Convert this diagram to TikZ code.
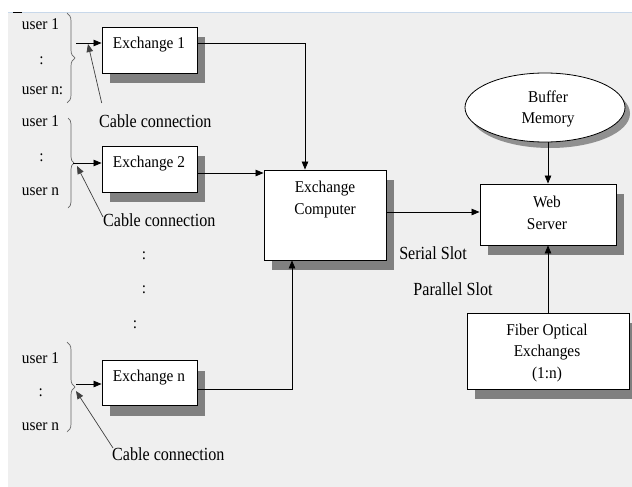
\documentclass[tikz,border=0pt]{standalone}
\usepackage{fontspec}
\setmainfont{Liberation Serif}
\newfontfamily\boxfont[FakeStretch=0.93]{Liberation Serif}
\newfontfamily\lblfont[FakeStretch=0.87]{Liberation Serif}
\usetikzlibrary{arrows.meta,shadows,shapes.geometric,decorations.pathreplacing}
\definecolor{bg}{HTML}{EFEFEF}
\definecolor{shd}{HTML}{808080}
\definecolor{topline}{HTML}{C8D8EA}
\begin{document}
\begin{tikzpicture}[x=1pt,y=-1pt,
  box/.style={draw=black, line width=0.9pt, fill=white, rectangle, inner sep=0pt,
    drop shadow={shadow xshift=8pt, shadow yshift=-10pt, fill=shd, opacity=1}},
  txt/.style={inner sep=0pt, font={\boxfont\fontsize{16.5}{21.5}\selectfont}, align=center},
  lbl/.style={inner sep=0pt, font={\lblfont\fontsize{18.5}{22}\selectfont}},
  arr/.style={line width=0.8pt, -{Triangle[length=8pt,width=6.5pt]}},
  cab/.style={line width=0.7pt, draw=black!75, -{Triangle[length=8pt,width=6.5pt]}},
  brc/.style={draw=black!60, line width=0.7pt, decorate, decoration={brace, amplitude=#1}},
]
\useasboundingbox (0,0) rectangle (632,487);
\fill[bg] (8,12) rectangle (632,487);
\draw[topline, line width=0.8pt] (8,12) -- (632,12);
\draw[line width=1.2pt] (13,12.7) -- (22,12.7);

% boxes
\node[box, minimum width=95pt, minimum height=46pt] (ex1) at (149.5,50) {};
\node[box, minimum width=95pt, minimum height=46pt] (ex2) at (149.5,169) {};
\node[box, minimum width=95pt, minimum height=45pt] (exn) at (149.5,383.2) {};
\node[box, minimum width=122pt, minimum height=90pt] (ec) at (325,215) {};
\node[box, minimum width=136pt, minimum height=61pt] (ws) at (548,214.5) {};
\node[box, minimum width=162pt, minimum height=76pt] (fo) at (548,351) {};
\node[draw=black, line width=0.8pt, ellipse, fill=white, inner sep=0pt,
  minimum width=160pt, minimum height=69pt,
  drop shadow={shadow xshift=5pt, shadow yshift=-6pt, fill=shd, opacity=0.85}] (bm) at (545,107.5) {};

% box texts
\node[txt, anchor=base] (t1) at (149,49) {Exchange 1};
\node[txt, anchor=base] (t2) at (149,167.3) {Exchange 2};
\node[txt, anchor=base] (tn) at (149,381.7) {Exchange n};
\node[txt] (tec) at (325,199.5) {Exchange\\Computer};
\node[txt] (tws) at (547,213) {Web\\Server};
\node[txt] (tfo) at (547,353) {Fiber Optical\\Exchanges\\(1:n)};
\node[txt] (tbm) at (548,109) {Buffer\\Memory};
\node[lbl, anchor=base] (ser) at (433,259.3) {Serial Slot};
\node[lbl, anchor=base] (par) at (453,295) {Parallel Slot};

% users group 1
\node[txt, anchor=base west] (u11) at (21.7,29.5) {user 1};
\node[txt, anchor=base] (u1c) at (41.5,65) {:};
\node[txt, anchor=base west] (u1n) at (21.7,94.3) {user n:};
\draw[brc=8pt] (67,13) -- (67,103);
% users group 2
\node[txt, anchor=base west] (u21) at (21.7,126.7) {user 1};
\node[txt, anchor=base] (u2c) at (41.5,161.7) {:};
\node[txt, anchor=base west] (u2n) at (21.7,195) {user n};
\draw[brc=6pt] (68,118) -- (68,208);
% dots
\node[txt, anchor=base] (d1) at (144,259) {:};
\node[txt, anchor=base] (d2) at (144,293) {:};
\node[txt, anchor=base] (d3) at (135,328) {:};
% users group n
\node[txt, anchor=base west] (un1) at (21.7,363.3) {user 1};
\node[txt, anchor=base] (unc) at (40.7,396.7) {:};
\node[txt, anchor=base west] (unn) at (21.7,430) {user n};
\draw[brc=8pt] (67,342) -- (67,432);

% cable labels
\node[lbl, anchor=base west] (cl1) at (99,128) {Cable connection};
\node[lbl, anchor=base west] (cl2) at (103,226) {Cable connection};
\node[lbl, anchor=base west] (cln) at (112,460) {Cable connection};

% brace-to-exchange arrows
\coordinate (g1) at (76,43);
\coordinate (g2) at (73,163);
\coordinate (gn) at (76,384);
\draw[arr] (g1) -- (g1 -| ex1.west);
\draw[arr] (g2) -- (g2 -| ex2.west);
\draw[arr] (gn) -- (gn -| exn.west);

% cable connection pointers
\coordinate (c1s) at (101.7,103);
\coordinate (c1e) at (88,44);
\coordinate (c2s) at (103,217);
\coordinate (c2e) at (77,166);
\coordinate (cns) at (113,448);
\coordinate (cne) at (76,391);
\draw[cab] (c1s) -- (c1e);
\draw[cab] (c2s) -- (c2e);
\draw[cab] (cns) -- (cne);

% main connectors
\draw[arr] ([yshift=7pt]ex1.east) -| ([xshift=-20pt]ec.north);
\draw[arr] ([yshift=-4pt]ex2.east) -- ([yshift=-4pt]ex2.east -| ec.west);
\draw[arr] ([yshift=-6pt]exn.east) -| ([xshift=-33pt]ec.south);
\draw[arr] ([yshift=3pt]ec.east) -- ([yshift=3pt]ec.east -| ws.west);
\draw[arr] (ws.north |- bm.south) -- (ws.north);
\draw[arr] (fo.north) -- (ws.south);
\end{tikzpicture}
\end{document}
